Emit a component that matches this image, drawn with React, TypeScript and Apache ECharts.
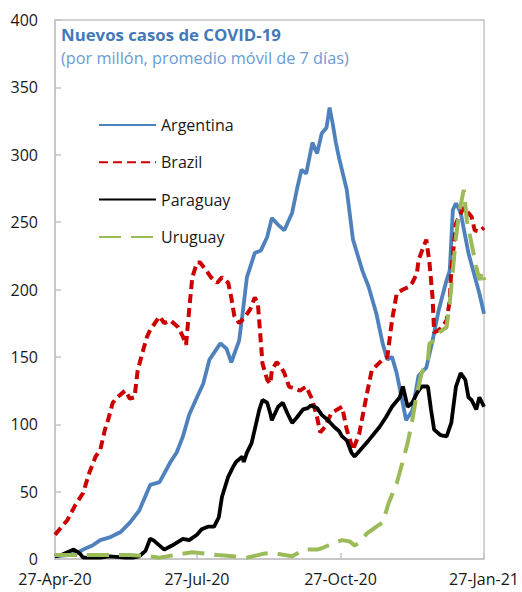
import React, { useEffect, useRef } from "react";
import * as echarts from "echarts";

// x values are days since 27-Apr-2020
const startDate = "2020-04-27";
const tickDates = ["2020-04-27", "2020-07-27", "2020-10-27", "2021-01-27"];
const tickLabels = ["27-Apr-20", "27-Jul-20", "27-Oct-20", "27-Jan-21"];
const seriesNames = ["Argentina", "Brazil", "Paraguay", "Uruguay"];

const argentinaDays = [0, 10, 15, 18, 24, 29, 35, 42, 48, 54, 61, 67, 74, 78, 82, 86, 91, 95, 99, 106, 110, 113, 118, 120, 123, 128, 132, 136, 139, 143, 147, 152, 155, 158, 161, 165, 168, 171, 174, 176, 178, 180, 182, 187, 191, 197, 201, 206, 210, 213, 216, 219, 223, 225, 229, 233, 238, 242, 246, 251, 253, 255, 257, 260, 265, 272, 275];
const argentinaValues = [2, 3, 5, 7, 10, 14, 16, 20, 27, 36, 55, 57, 72, 79, 91, 107, 120, 130, 148, 160, 156, 146, 162, 180, 209, 227, 229, 239, 253, 248, 244, 257, 274, 289, 286, 309, 301, 316, 320, 335, 323, 309, 298, 274, 237, 214, 202, 182, 160, 148, 150, 138, 115, 103, 110, 136, 142, 162, 185, 207, 214, 259, 264, 257, 227, 197, 182];

const brazilDays = [0, 8, 13, 18, 22, 26, 29, 32, 34, 37, 40, 45, 48, 51, 53, 56, 59, 61, 67, 70, 74, 79, 82, 84, 86, 88, 91, 93, 97, 100, 104, 107, 111, 113, 115, 118, 122, 125, 128, 130, 131, 133, 136, 138, 139, 142, 144, 147, 150, 157, 161, 165, 168, 170, 173, 177, 181, 184, 187, 191, 195, 200, 203, 210, 213, 216, 219, 223, 227, 229, 232, 233, 238, 240, 242, 243, 246, 248, 251, 253, 254, 257, 259, 262, 267, 269, 272, 275];
const brazilValues = [18, 29, 40, 49, 64, 76, 81, 96, 103, 116, 120, 125, 119, 120, 140, 153, 165, 170, 180, 175, 177, 172, 165, 159, 185, 209, 220, 220, 214, 209, 205, 209, 205, 194, 180, 175, 180, 185, 194, 190, 175, 145, 133, 130, 140, 146, 144, 138, 128, 125, 128, 118, 105, 94, 98, 108, 111, 113, 96, 81, 93, 123, 140, 148, 150, 177, 197, 200, 202, 205, 212, 222, 237, 220, 194, 168, 170, 172, 177, 192, 214, 249, 254, 261, 254, 244, 243, 246];

const paraguayDays = [0, 4, 8, 12, 16, 18, 29, 35, 45, 50, 54, 58, 61, 63, 65, 70, 75, 82, 86, 91, 94, 98, 102, 105, 107, 111, 114, 116, 120, 121, 123, 126, 128, 131, 133, 136, 138, 139, 143, 146, 149, 152, 155, 159, 162, 164, 168, 171, 175, 179, 182, 184, 187, 190, 192, 195, 201, 208, 212, 216, 221, 223, 226, 229, 232, 235, 239, 241, 243, 247, 251, 254, 257, 260, 263, 265, 267, 270, 272, 275];
const paraguayValues = [2, 3, 5, 7, 4, 1, 1, 2, 1, 1, 2, 6, 15, 14, 12, 7, 10, 15, 14, 18, 22, 24, 24, 31, 46, 61, 68, 72, 76, 72, 79, 86, 96, 111, 118, 116, 108, 103, 113, 116, 108, 101, 105, 111, 112, 114, 112, 107, 103, 98, 95, 91, 88, 79, 76, 80, 88, 98, 105, 113, 120, 128, 113, 116, 123, 128, 128, 111, 96, 92, 91, 101, 128, 138, 133, 120, 118, 111, 120, 113];

const uruguayDays = [0, 16, 29, 48, 61, 67, 77, 88, 96, 104, 114, 123, 134, 142, 147, 152, 160, 168, 171, 175, 179, 184, 189, 192, 195, 200, 206, 210, 214, 219, 223, 226, 229, 232, 235, 239, 240, 243, 246, 251, 253, 255, 257, 259, 262, 264, 267, 270, 272, 274, 275];
const uruguayValues = [3, 3, 3, 3, 2, 1, 3, 5, 4, 3, 2, 1, 4, 4, 3, 2, 7, 7, 8, 10, 12, 14, 13, 10, 12, 19, 24, 27, 42, 56, 73, 86, 103, 123, 138, 148, 160, 162, 168, 172, 190, 214, 239, 257, 274, 251, 234, 217, 207, 214, 207];

const FONT = "'Open Sans', sans-serif";
const AXIS_GRAY = "#c4c4c4";

function daysSinceStart(d: string): number {
  return Math.round((Date.parse(d) - Date.parse(startDate)) / 86400000);
}

function pairs(days: number[], values: number[]): number[][] {
  return days.map((d, i) => [d, values[i]]);
}

export default function App() {
  const ref = useRef<HTMLDivElement>(null);

  useEffect(() => {
    if (!ref.current) return;
    const chart = echarts.init(ref.current, undefined, { renderer: "svg" });
    const tickDays = tickDates.map(daysSinceStart);
    const lastDay = tickDays[tickDays.length - 1];

    const styles = [
      { color: "#4f81bd", width: 3.8, type: "solid" as any },
      { color: "#cc0000", width: 4, type: [9, 5] as any },
      { color: "#000000", width: 3.8, type: "solid" as any },
      { color: "#9bbb59", width: 4, type: [22, 10] as any },
    ];
    const dataSets = [
      pairs(argentinaDays, argentinaValues),
      pairs(brazilDays, brazilValues),
      pairs(paraguayDays, paraguayValues),
      pairs(uruguayDays, uruguayValues),
    ];

    chart.setOption({
      animation: false,
      backgroundColor: "#ffffff",
      title: {
        text: "Nuevos casos de COVID-19",
        subtext: "(por millón, promedio móvil de 7 días)",
        left: 61,
        top: 26,
        padding: 0,
        itemGap: 7,
        textStyle: { fontFamily: FONT, fontSize: 16.8, fontWeight: "bold", color: "#4479b8" },
        subtextStyle: { fontFamily: FONT, fontSize: 16.3, color: "#6a9bd2" },
      },
      legend: {
        orient: "vertical",
        left: 98,
        top: 117,
        padding: 0,
        itemWidth: 57,
        itemHeight: 14,
        itemGap: 21.3,
        data: seriesNames,
        itemStyle: { opacity: 0 },
        textStyle: { fontFamily: FONT, fontSize: 16, color: "#1a1a1a" },
      },
      grid: {
        left: 55,
        right: 37,
        top: 20,
        bottom: 33,
        show: true,
        borderColor: AXIS_GRAY,
        borderWidth: 1.5,
      },
      xAxis: {
        type: "value",
        min: 0,
        max: lastDay,
        axisLine: { onZero: false, lineStyle: { color: AXIS_GRAY, width: 1.5 } },
        axisTick: { customValues: tickDays, inside: true, length: 6, lineStyle: { color: AXIS_GRAY, width: 1.5 } },
        axisLabel: {
          customValues: tickDays,
          formatter: (v: number) => tickLabels[tickDays.indexOf(Math.round(v))] ?? "",
          fontFamily: FONT,
          fontSize: 16,
          color: "#1a1a1a",
          margin: 12,
        },
        splitLine: { show: false },
      },
      yAxis: {
        type: "value",
        min: 0,
        max: 400,
        interval: 50,
        axisLine: { show: true, lineStyle: { color: AXIS_GRAY, width: 1.5 } },
        axisTick: { show: true, inside: true, length: 6, lineStyle: { color: AXIS_GRAY, width: 1.5 } },
        axisLabel: { fontFamily: FONT, fontSize: 16, color: "#1a1a1a", margin: 17 },
        splitLine: { show: false },
      },
      series: seriesNames.map((name, i) => ({
        name,
        type: "line",
        data: dataSets[i],
        symbol: "none",
        showSymbol: false,
        smooth: false,
        color: styles[i].color,
        lineStyle: { color: styles[i].color, width: styles[i].width, type: styles[i].type },
      })),
    });

    return () => chart.dispose();
  }, []);

  return (
    <div
      ref={ref}
      style={{ position: "fixed", left: 0, top: 0, width: 522, height: 592, background: "#fff" }}
    />
  );
}
